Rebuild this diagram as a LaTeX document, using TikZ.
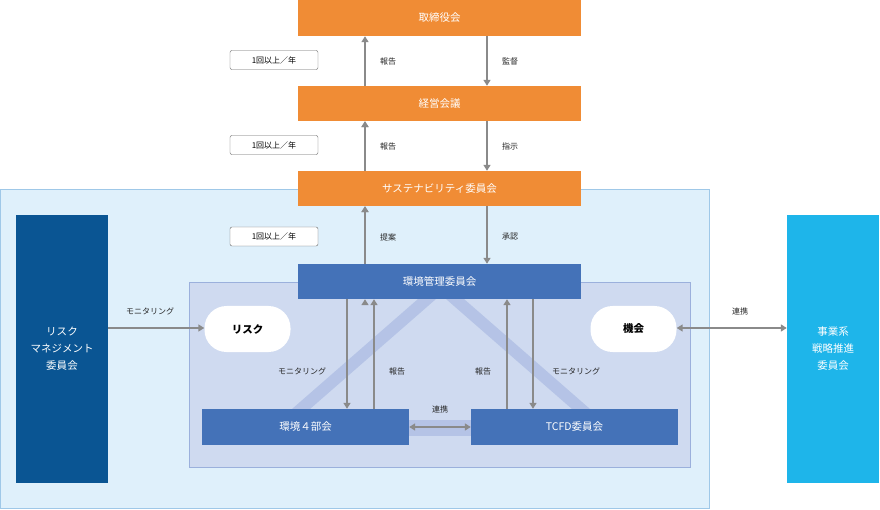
\documentclass[tikz,border=0pt]{standalone}
\usepackage{fontspec}
\setmainfont{Noto Sans CJK JP}
\usetikzlibrary{arrows.meta}
\definecolor{org}{HTML}{F08C35}
\definecolor{blu}{HTML}{4472B8}
\definecolor{dblu}{HTML}{0A5593}
\definecolor{cyn}{HTML}{1EB5EA}
\definecolor{pale}{HTML}{DFF0FB}
\definecolor{palebd}{HTML}{9FC8E8}
\definecolor{inner}{HTML}{CFDAF0}
\definecolor{innerbd}{HTML}{9BB0DC}
\definecolor{band}{HTML}{B5C3E6}
\definecolor{arr}{HTML}{8A8A8A}
\tikzset{
 ob/.style={fill=org,text=white,font=\fontsize{10.5pt}{12pt}\selectfont},
 bb/.style={fill=blu,text=white,font=\fontsize{10.5pt}{12pt}\selectfont},
 ar/.style={draw=arr,line width=2.4pt,-{Triangle[length=6pt,width=7pt]}},
 dar/.style={draw=arr,line width=2.4pt,{Triangle[length=6pt,width=7pt]}-{Triangle[length=6pt,width=7pt]}},
 lb/.style={font=\fontsize{8pt}{10pt}\selectfont,text=black!85},
 freq/.style={draw=black!60,rounded corners=2pt,fill=white,minimum width=88pt,minimum height=19pt,inner sep=0pt,font=\fontsize{8pt}{10pt}\selectfont},
 pill/.style={fill=white,rounded corners=22pt,minimum width=86pt,minimum height=46pt,font=\bfseries\fontsize{10.5pt}{12pt}\selectfont}
}
\begin{document}
\begin{tikzpicture}[x=1pt,y=-1pt]
\useasboundingbox (0,0) rectangle (880,510);
\fill[pale,draw=palebd] (0.5,189) rectangle (709,508);
\fill[inner,draw=innerbd] (189,282) rectangle (690,467);
% bands
\fill[band] (418,299) -- (436,299) -- (310,409) -- (292,409) -- cycle;
\fill[band] (446,299) -- (464,299) -- (590,409) -- (572,409) -- cycle;
\fill[band] (409,420) rectangle (471,436);
% boxes
\node[ob,minimum width=283pt,minimum height=36pt,inner sep=0pt] (tor) at (439.5,18) {取締役会};
\node[ob,minimum width=283pt,minimum height=35pt,inner sep=0pt] (kei) at (439.5,103.5) {経営会議};
\node[ob,minimum width=283pt,minimum height=35pt,inner sep=0pt] (sus) at (439.5,188.5) {サステナビリティ委員会};
\node[bb,minimum width=283pt,minimum height=35pt,inner sep=0pt] (kan) at (439.5,281.5) {環境管理委員会};
\node[bb,minimum width=207pt,minimum height=36pt,inner sep=0pt] (bu) at (305.5,427) {環境４部会};
\node[bb,minimum width=207pt,minimum height=36pt,inner sep=0pt] (tcfd) at (574.5,427) {TCFD委員会};
\node[fill=dblu,text=white,minimum width=92pt,minimum height=268pt,inner sep=0pt,align=center,font=\fontsize{10.5pt}{17pt}\selectfont] (rm) at (62,349) {リスク\\マネジメント\\委員会};
\node[fill=cyn,text=white,minimum width=92pt,minimum height=268pt,inner sep=0pt,align=center,font=\fontsize{10.5pt}{17pt}\selectfont] (jg) at (833,349) {事業系\\戦略推進\\委員会};
\node[pill] (risk) at (247.5,329) {リスク};
\node[pill] (kikai) at (633.5,329) {機会};
% freq labels
\node[freq] (f1) at (274,60) {1回以上／年};
\node[freq] (f2) at (274,145) {1回以上／年};
\node[freq] (f3) at (274,236.5) {1回以上／年};
% vertical arrows
\foreach \lo/\hi/\u/\d [count=\i] in {kei/tor/報告/監督,sus/kei/報告/指示,kan/sus/提案/承認}{
 \draw[ar] (\lo.south west -| 365,0) ++(0,0) coordinate (a\i);
}
\draw[ar] (kei.north -| 365,0) -- (tor.south -| 365,0);
\draw[ar] (tor.south -| 487,0) -- (kei.north -| 487,0);
\draw[ar] (sus.north -| 365,0) -- (kei.south -| 365,0);
\draw[ar] (kei.south -| 487,0) -- (sus.north -| 487,0);
\draw[ar] (kan.north -| 365,0) -- (sus.south -| 365,0);
\draw[ar] (sus.south -| 487,0) -- (kan.north -| 487,0);
\node[lb] (l1) at (388,61) {報告};
\node[lb] (l2) at (510,61) {監督};
\node[lb] (l3) at (388,146) {報告};
\node[lb] (l4) at (510,146) {指示};
\node[lb] (l5) at (388,237) {提案};
\node[lb] (l6) at (510,237) {承認};
% inner arrows
\draw[ar] (kan.south -| 347,0) -- (bu.north -| 347,0);
\draw[ar] (bu.north -| 374,0) -- (kan.south -| 374,0);
\draw[ar] (tcfd.north -| 507,0) -- (kan.south -| 507,0);
\draw[ar] (kan.south -| 533,0) -- (tcfd.north -| 533,0);
\node[lb] (m1) at (302,371) {モニタリング};
\node[lb] (m2) at (397,371) {報告};
\node[lb] (m3) at (483,371) {報告};
\node[lb] (m4) at (576,371) {モニタリング};
\draw[dar] (bu.east) -- (tcfd.west);
\node[lb] (m5) at (440,409) {連携};
\draw[ar] (rm.east |- 0,328) -- (risk.west |- 0,328);
\node[lb] (m6) at (150,311) {モニタリング};
\draw[dar] (kikai.east |- 0,328) -- (jg.west |- 0,328);
\node[lb] (m7) at (740,311) {連携};
\end{tikzpicture}
\end{document}
